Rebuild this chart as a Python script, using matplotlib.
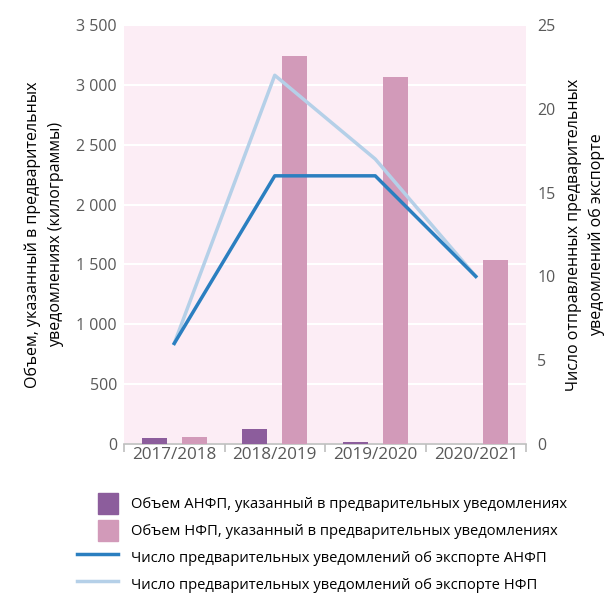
import numpy as np
import matplotlib as mpl
mpl.use('Agg')
import matplotlib.pyplot as plt
from matplotlib.patches import Patch
from matplotlib.lines import Line2D
from matplotlib.legend_handler import HandlerLine2D

# data
years = ['2017/2018', '2018/2019', '2019/2020', '2020/2021']
vol_anfp = [50, 125, 17, 3]          # kg, purple bars
vol_nfp = [60, 3240, 3065, 1535]     # kg, pink bars
cnt_anfp = [6, 16, 16, 10]           # notifications, dark blue line
cnt_nfp = [6, 22, 17, 10]            # notifications, light blue line

legend_labels = [
    'Объем АНФП, указанный в предварительных уведомлениях',
    'Объем НФП, указанный в предварительных уведомлениях',
    'Число предварительных уведомлений об экспорте АНФП',
    'Число предварительных уведомлений об экспорте НФП',
]

c_purple = '#8c5d9c'
c_pink = '#d29ab9'
c_dblue = '#2b7fc0'
c_lblue = '#b5d0e8'
c_bg = '#fcedf5'
c_text = '#595959'


class LongLine(HandlerLine2D):
    """Legend line that sticks out to the left of the patch column."""
    def get_xdata(self, legend, xdescent, ydescent, width, height, fontsize):
        xdata = np.array([-xdescent - width, -xdescent + width])
        return xdata, np.array([-xdescent + width / 2.0])


plt.rcParams['font.family'] = ['Open Sans', 'DejaVu Sans']

fig = plt.figure(figsize=(6.04, 5.95), dpi=100)
ax = fig.add_axes([0.2053, 0.2538, 0.6656, 0.7042])
ax.set_facecolor(c_bg)

x = np.arange(len(years))
w = 0.25
ax.bar(x - 0.2, vol_anfp, w, color=c_purple, zorder=3)
ax.bar(x + 0.2, vol_nfp, w, color=c_pink, zorder=3)

ax.set_xlim(-0.5, 3.5)
ax.set_ylim(0, 3500)
ax.set_yticks(np.arange(0, 3501, 500))
ax.set_yticklabels(['{:,}'.format(v).replace(',', ' ') for v in range(0, 3501, 500)])
ax.grid(axis='y', color='white', linewidth=1.5, zorder=1)
ax.set_axisbelow(True)
ax.set_xticks(x)
ax.set_xticklabels(years)
ax.set_xticks(np.arange(-0.5, 3.6, 1), minor=True)
ax.tick_params(axis='x', which='major', length=0, labelsize=12.3,
               colors=c_text, pad=2)
ax.tick_params(axis='x', which='minor', length=6, color='#bfbfbf', width=1.2)
ax.tick_params(axis='y', length=0, labelsize=11.5, colors=c_text, pad=5)
for s in ['top', 'right', 'left']:
    ax.spines[s].set_visible(False)
ax.spines['bottom'].set_color('#bfbfbf')
ax.spines['bottom'].set_linewidth(1.2)
ax.set_ylabel('Объем, указанный в предварительных\nуведомлениях (килограммы)',
              fontsize=11.5, color='black', labelpad=9, linespacing=1.6)

ax2 = ax.twinx()
ax2.plot(x, cnt_nfp, color=c_lblue, linewidth=2.5, zorder=4)
ax2.plot(x, cnt_anfp, color=c_dblue, linewidth=2.5, zorder=5)
ax2.set_ylim(0, 25)
ax2.set_yticks(np.arange(0, 26, 5))
ax2.tick_params(axis='y', length=0, labelsize=11.5, colors=c_text, pad=8)
for s in ['top', 'right', 'left', 'bottom']:
    ax2.spines[s].set_visible(False)
ax2.set_ylabel('Число отправленных предварительных\nуведомлений об экспорте',
               fontsize=11.5, color='black', rotation=90, labelpad=8,
               linespacing=1.45)

line_a = Line2D([], [], color=c_dblue, linewidth=2.5)
line_n = Line2D([], [], color=c_lblue, linewidth=2.5)
handles = [Patch(color=c_purple), Patch(color=c_pink), line_a, line_n]
fig.legend(handles, legend_labels, loc='upper left',
           bbox_to_anchor=(0.152, 0.182), frameon=False, fontsize=10.6,
           handlelength=1.4, handleheight=1.9, handletextpad=0.85,
           labelspacing=0.35, borderaxespad=0,
           handler_map={line_a: LongLine(), line_n: LongLine()})

plt.savefig('out.png', dpi=100)
plt.close()
